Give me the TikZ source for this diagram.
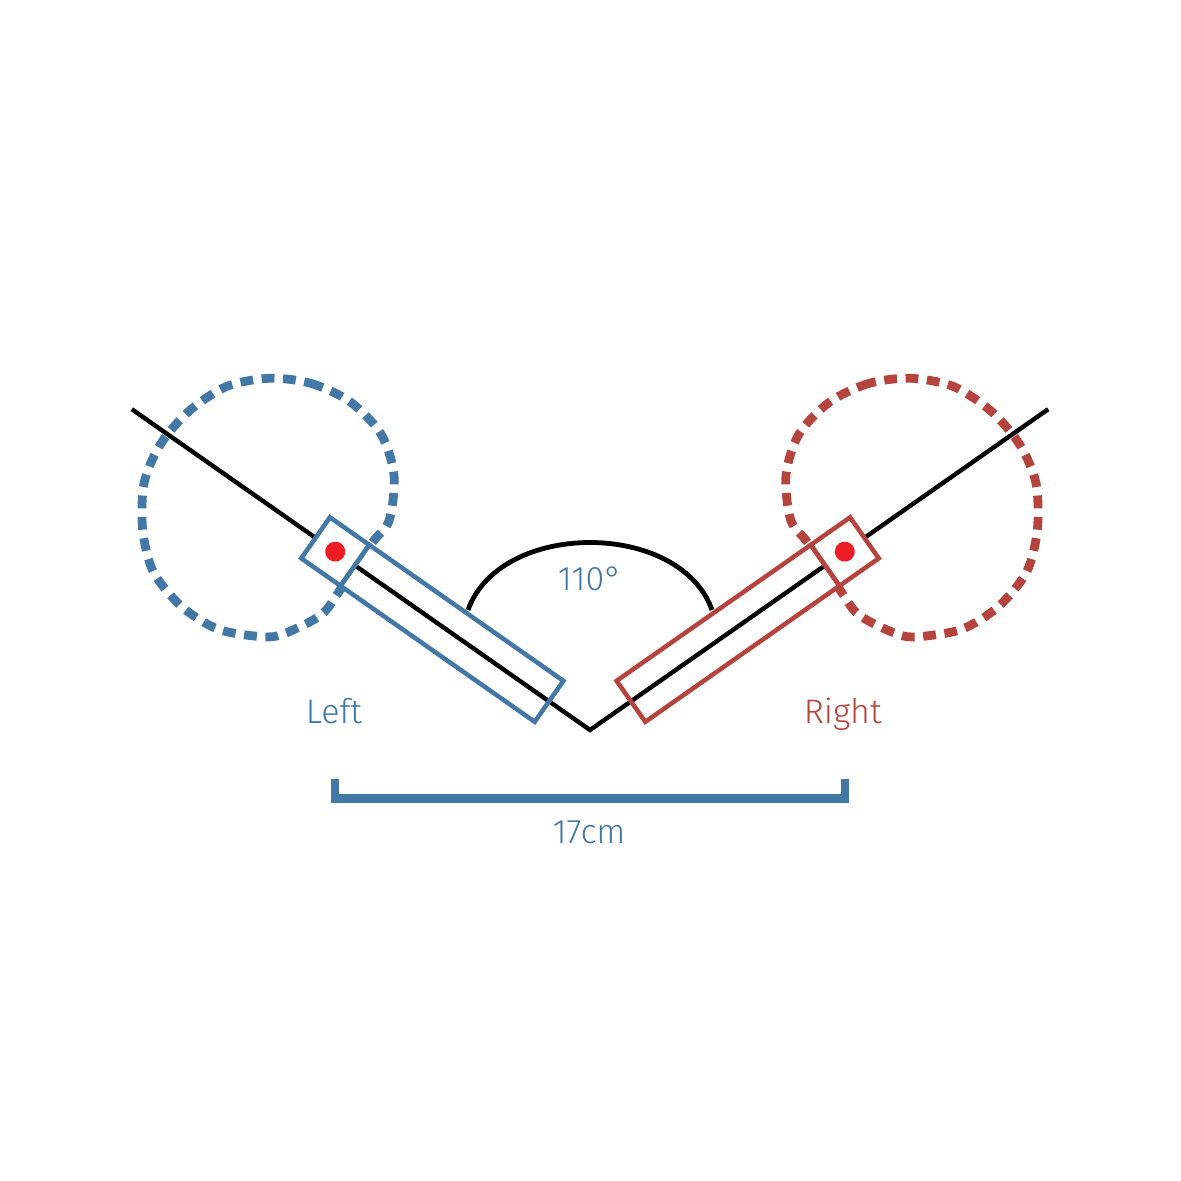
\documentclass[tikz,border=0pt]{standalone}
\usepackage{fontspec}
\setmainfont{Fira Sans Light}
\definecolor{armblue}{RGB}{66,119,166}
\definecolor{armred}{RGB}{181,67,62}
\definecolor{pivotred}{RGB}{237,28,36}
\begin{document}
\begin{tikzpicture}[x=0.5pt,y=-0.5pt,
  guide/.style={line width=2.2pt, black},
  armline/.style={line width=2.25pt},
  reach/.style={line width=4.4pt, dash pattern=on 6.4pt off 4.3pt},
  lbl/.style={font=\fontsize{17}{20}\selectfont, inner sep=0pt, anchor=base},
  leftarm/.style={shift={(590,730)}, rotate=145},
  rightarm/.style={shift={(590,730)}, rotate=35},
  mirror/.style={shift={(1180,0)}, xscale=-1}]
\useasboundingbox (0,0) rectangle (1181,1181);
\fill[white] (0,0) rectangle (1181,1181);
\coordinate (V) at (590,730);
\coordinate (EL) at (131.8,409.2);
\coordinate (ER) at (1048.2,409.2);
% reach circles
\draw[reach, armblue] plot[smooth cycle] coordinates {
 (269,378.3) (310.7,383.3) (350,401.7) (381,434) (394,475) (389.3,520)
 (372,543) (340,590) (321,615) (283.3,634) (261.7,636.7) (218.3,629.3)
 (181.7,606.7) (153.3,571.7) (142.7,530) (144,483.3) (160,445)
 (188.3,411.7) (226,386.7)};
\begin{scope}[mirror]
\draw[reach, armred] plot[smooth cycle] coordinates {
 (269,378.3) (310.7,383.3) (350,401.7) (381,434) (394,475) (389.3,520)
 (372,543) (340,590) (321,615) (283.3,634) (261.7,636.7) (218.3,629.3)
 (181.7,606.7) (153.3,571.7) (142.7,530) (144,483.3) (160,445)
 (188.3,411.7) (226,386.7)};
\end{scope}
% bar fills
\begin{scope}[leftarm]
\fill[white] (50,-25) rectangle (287,25);
\end{scope}
\begin{scope}[rightarm]
\fill[white] (50,-25) rectangle (287,25);
\end{scope}
% guide line
\draw[guide] (EL) -- (V) -- (ER);
% left arm
\begin{scope}[leftarm]
\filldraw[armline, fill=white, draw=armblue] (287,-25) rectangle (335,25);
\draw[armline, armblue] (50,-25) rectangle (287,25);
\fill[pivotred] (311,0) circle (10);
\end{scope}
% right arm
\begin{scope}[rightarm]
\filldraw[armline, fill=white, draw=armred] (287,-25) rectangle (335,25);
\draw[armline, armred] (50,-25) rectangle (287,25);
\fill[pivotred] (311,0) circle (10);
\end{scope}
% angle arc
\coordinate (A1) at (468,610);
\coordinate (A2) at (712,610);
\draw[guide, line width=2.4pt] (A1) .. controls (500,520) and (680,520) .. (A2);
% labels
\node[lbl, text=armblue] (angle) at (590,590) {110°};
\node[lbl, text=armblue] (lefttxt) at (334,723.3) {Left};
\node[lbl, text=armred] (righttxt) at (842.7,723.3) {Right};
% scale bar
\coordinate (S1) at (335,779);
\coordinate (S2) at (845,779);
\draw[armblue, line width=4.25pt] (S1) -- (335,798.5) -- (845,798.5) -- (S2);
\node[lbl, text=armblue] (dist) at (589,843.3) {17cm};
\end{tikzpicture}
\end{document}
